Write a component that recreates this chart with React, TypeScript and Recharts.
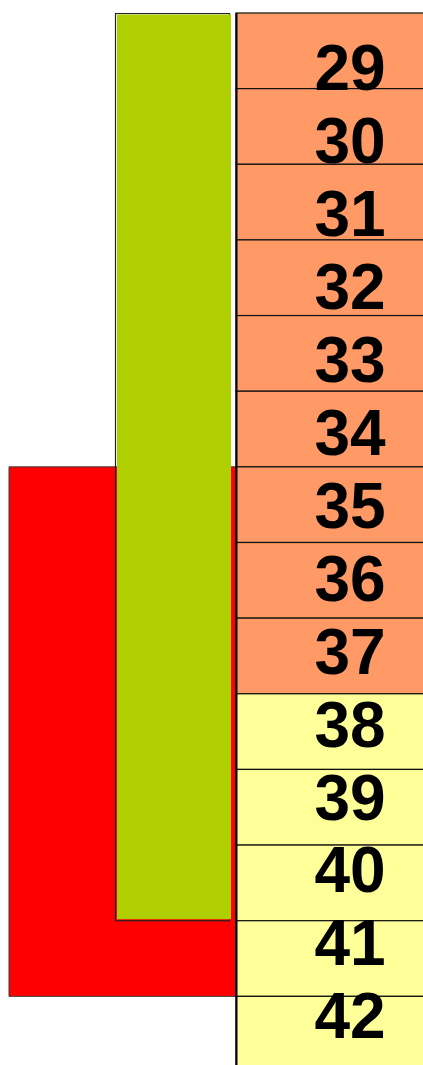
import React from 'react';
import { BarChart, Bar, XAxis, YAxis } from 'recharts';

// week rows shown in the right-hand column
const weeks = [29, 30, 31, 32, 33, 34, 35, 36, 37, 38, 39, 40, 41, 42];
const orangeWeeks = [29, 30, 31, 32, 33, 34, 35, 36, 37];
const yellowWeeks = [38, 39, 40, 41, 42];

// spans (first week, last week) of the two blocks
const redSpan = [35, 41];
const greenSpan = [29, 40];

const data = [
  {
    slot: 'span',
    red: [redSpan[0] - 0.5, redSpan[1] + 0.5],
    green: [greenSpan[0] - 0.5, greenSpan[1] + 0.5],
  },
];

const W = 423;
const H = 1072;
const TOP = 13;
const CELL_W = 186;
const ROW_DOMAIN: [number, number] = [28.5, 42.5];
const LABEL_DOMAIN: [number, number] = [28.264, 42.775];
const ROW_H = (H - TOP) / (ROW_DOMAIN[1] - ROW_DOMAIN[0]);

const SALMON = '#FF9966';
const YELLOW = '#FFFF99';

const RowTick = (props: any) => {
  const { x, y, payload } = props;
  const v = payload.value;
  const fill = orangeWeeks.includes(v) ? SALMON : yellowWeeks.includes(v) ? YELLOW : '#fff';
  return (
    <g>
      <rect x={x - 1} y={y - ROW_H / 2} width={CELL_W + 60} height={ROW_H} fill={fill} stroke="#111" strokeWidth={1.2} />
      <line x1={x - 0.5} x2={x - 0.5} y1={y - ROW_H / 2} y2={y + ROW_H / 2} stroke="#000" strokeWidth={2} />
    </g>
  );
};

const LabelTick = (props: any) => {
  const { x, y, payload } = props;
  return (
    <text
      x={x + 114}
      y={y + 23}
      textAnchor="middle"
      fontFamily="'Liberation Sans', Arial, sans-serif"
      fontWeight="bold"
      fontSize={64}
      fill="#000"
    >
      {payload.value}
    </text>
  );
};

const GreenShape = (props: any) => {
  const { x, y, width, height } = props;
  const top = Math.min(y, y + height);
  const h = Math.abs(height);
  return (
    <g>
      <rect x={x + 0.5} y={top + 0.5} width={width - 2} height={h - 0.5} fill="none" stroke="#222" strokeWidth={1.2} />
      <rect x={x + 2} y={top + 1.5} width={width - 2} height={h - 3} fill="#B0CF00" />
    </g>
  );
};

export default function App() {
  return (
    <div style={{ position: 'absolute', left: 0, top: 0, width: W, height: 1065, overflow: 'hidden', background: '#fff' }}>
      <BarChart width={W} height={H} data={data} margin={{ top: TOP, right: 0, bottom: 0, left: 0 }} barCategoryGap={0} barGap={0}>
        <XAxis xAxisId="red" dataKey="slot" hide padding={{ left: 9, right: 0 }} />
        <XAxis xAxisId="green" dataKey="slot" hide padding={{ left: 115, right: 5 }} />
        <YAxis
          yAxisId="rows"
          orientation="right"
          type="number"
          domain={ROW_DOMAIN}
          allowDataOverflow
          reversed
          ticks={weeks}
          interval={0}
          width={CELL_W}
          tickSize={0}
          tickMargin={0}
          tickLine={false}
          axisLine={false}
          tick={<RowTick />}
        />
        <YAxis
          yAxisId="labels"
          orientation="right"
          type="number"
          domain={LABEL_DOMAIN}
          allowDataOverflow
          reversed
          ticks={weeks}
          interval={0}
          width={1}
          tickSize={0}
          tickMargin={0}
          tickLine={false}
          axisLine={false}
          tick={<LabelTick />}
        />
        <Bar
          xAxisId="red"
          yAxisId="rows"
          dataKey="red"
          fill="#FF0000"
          stroke="#3a3a3a"
          strokeWidth={1}
          isAnimationActive={false}
        />
        <Bar
          xAxisId="green"
          yAxisId="rows"
          dataKey="green"
          shape={<GreenShape />}
          isAnimationActive={false}
        />
      </BarChart>
    </div>
  );
}
